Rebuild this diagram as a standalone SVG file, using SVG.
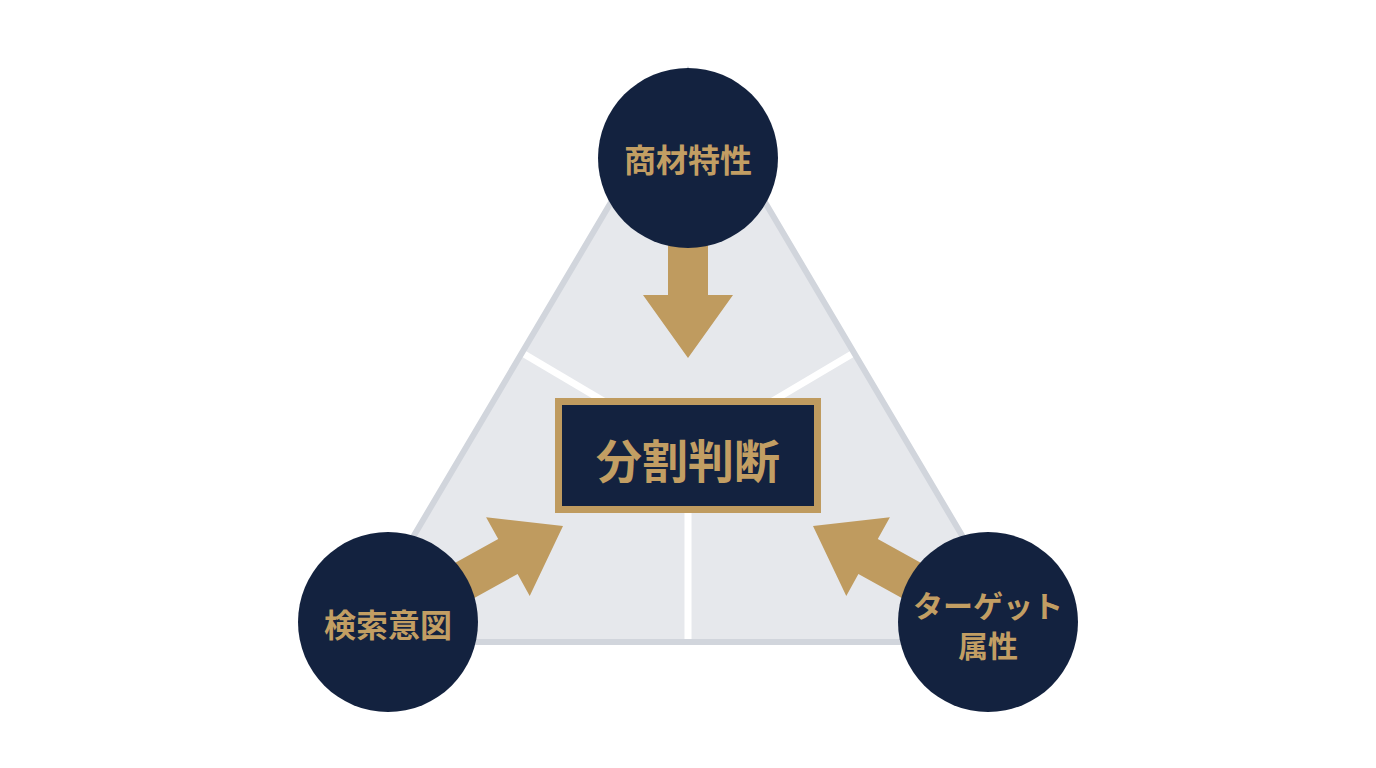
<svg xmlns="http://www.w3.org/2000/svg" width="1376" height="768" viewBox="0 0 1376 768">
  <defs>
    <style>
      .tri { fill: #e6e8ec; }
      .tri-border { fill: none; stroke: #d1d5dc; stroke-width: 6; stroke-linejoin: miter; }
      .divider { stroke: #ffffff; stroke-width: 7; }
      .arrow { fill: #bf9b5f; }
      .node-circle { fill: #13223f; }
      .label { font-family: "Noto Sans CJK JP", "Noto Sans CJK SC", sans-serif; font-weight: 700; fill: #c29e63; text-anchor: middle; dominant-baseline: central; }
      .box { fill: #13223f; stroke: #bf9b5f; stroke-width: 7; }
    </style>
    <path id="arrowShape" d="M -20 -190 L 20 -190 L 20 -63 L 45 -63 L 0 0 L -45 -63 L -20 -63 Z"/>
  </defs>
  <rect width="1376" height="768" fill="#ffffff"/>

  <g id="triangle">
    <polygon class="tri" points="688,72 351,642 1025,642"/>
  </g>

  <g id="dividers">
    <line class="divider" x1="688" y1="451" x2="524" y2="354"/>
    <line class="divider" x1="688" y1="451" x2="852" y2="354"/>
    <line class="divider" x1="688" y1="451" x2="688" y2="640"/>
  </g>

  <g id="triangle-border">
    <polygon class="tri-border" points="688,72 351,642 1025,642"/>
  </g>

  <g id="connectors">
    <use href="#arrowShape" class="arrow" transform="translate(688,358)"/>
    <use href="#arrowShape" class="arrow" transform="translate(563,526) rotate(-119)"/>
    <use href="#arrowShape" class="arrow" transform="translate(813,526) rotate(119)"/>
  </g>

  <g id="node-center">
    <rect class="box" x="558.5" y="401.5" width="259" height="108"/>
    <text class="label" x="688" y="458" font-size="46">分割判断</text>
  </g>

  <g id="node-top">
    <circle class="node-circle" cx="688" cy="158" r="90"/>
    <text class="label" x="688" y="158" font-size="32">商材特性</text>
  </g>

  <g id="node-left">
    <circle class="node-circle" cx="388" cy="622" r="90"/>
    <text class="label" x="388" y="623" font-size="32">検索意図</text>
  </g>

  <g id="node-right">
    <circle class="node-circle" cx="988" cy="622" r="90"/>
    <text class="label" x="988" y="604" font-size="30">ターゲット</text>
    <text class="label" x="988" y="644" font-size="30">属性</text>
  </g>
</svg>
